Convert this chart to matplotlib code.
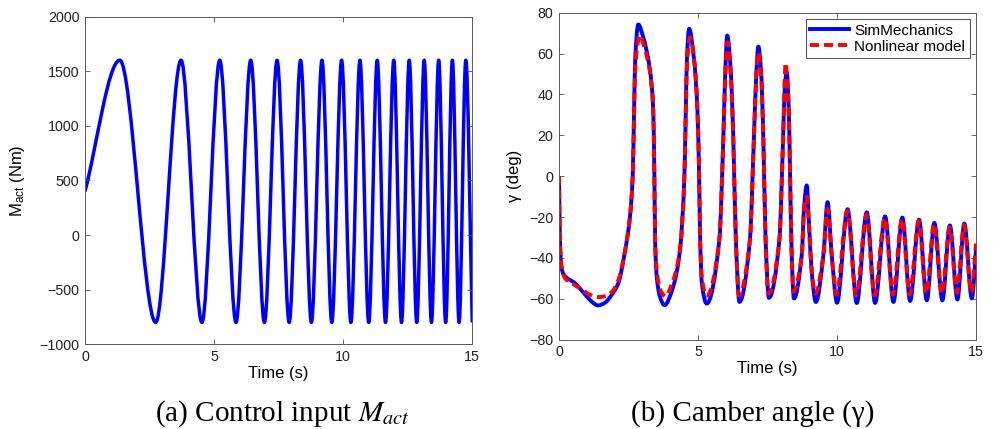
import numpy as np
import matplotlib
matplotlib.use('Agg')
import matplotlib.pyplot as plt
from matplotlib.path import Path
from matplotlib.patches import PathPatch
from matplotlib.lines import Line2D

plt.rcParams['font.family'] = ['Liberation Sans', 'DejaVu Sans']
plt.rcParams['mathtext.fontset'] = 'custom'
plt.rcParams['mathtext.rm'] = 'Liberation Sans'
plt.rcParams['mathtext.it'] = 'Liberation Sans:italic'

# (a) control input: start value and the turning points of the chirp
m_act_time = [0.00, 1.35, 2.74, 3.72, 4.53, 5.22, 5.85, 6.42, 6.95, 7.44, 7.91,
              8.35, 8.77, 9.18, 9.56, 9.94, 10.30, 10.65, 10.99, 11.32, 11.64,
              11.96, 12.26, 12.56, 12.85, 13.14, 13.42, 13.70, 13.97, 14.23,
              14.49, 14.75, 15.00]
m_act = [400, 1600, -800, 1600, -800, 1600, -800, 1600, -800, 1600, -800,
         1600, -800, 1600, -800, 1600, -800, 1600, -800, 1600, -800,
         1600, -800, 1600, -800, 1600, -800, 1600, -800, 1600,
         -800, 1600, -800]

# (b) camber angle, SimMechanics
sim_time = [0.00, 0.03, 0.08, 0.16, 0.58, 0.94, 1.18, 1.40, 1.65, 1.90, 2.13,
            2.37, 2.55, 2.65, 2.70, 2.74, 2.85, 3.03, 3.27, 3.39, 3.43, 3.46,
            3.52, 3.63, 3.79,
            4.11, 4.35, 4.51, 4.56, 4.60, 4.68, 4.86, 4.98, 5.04, 5.08, 5.14,
            5.31,
            5.77, 5.91, 5.98, 6.05, 6.18, 6.27, 6.36, 6.49,
            6.87, 7.01, 7.10, 7.17, 7.27, 7.35, 7.43, 7.55,
            7.93, 8.06, 8.12, 8.19, 8.26, 8.31, 8.37, 8.45,
            8.73, 8.82, 8.91, 8.99, 9.09, 9.24,
            9.51, 9.66, 9.81, 10.00,
            10.38, 10.71, 11.07, 11.37, 11.73, 12.03, 12.35, 12.63, 12.95,
            13.23, 13.50, 13.79, 14.06, 14.33, 14.58, 14.85, 15.00]
sim_gamma = [0, -30, -44, -48, -52.5, -58, -61.5, -63.3, -62, -58, -52.5,
             -37, -20, 0, 32, 57, 74.3, 68, 52, 32, 0, -33,
             -50, -59, -63.2,
             -54, -36.3, 0, 32, 57, 72.2, 56.7, 32, 0, -33, -52.6,
             -62.4,
             -30.6, 18.4, 51, 68.9, 51, 18.4, -30.6, -61.6,
             -30.6, 18.4, 51, 63.5, 51, 18.4, -30.6, -59.6,
             -30.6, 18.4, 42.8, 51, 34.6, 2, -38.7, -59.9,
             -38.7, -14.3, -4.5, -22.4, -46.9, -61.6,
             -38.7, -12.7, -38.7, -62,
             -16.2, -62.1, -17.7, -62.1, -19.7, -61.6, -20.3, -61.1, -21.3,
             -60.8, -22.9, -60.8, -24.1, -60.4, -23.2, -59.9, -36]

# (b) camber angle, nonlinear model
nl_time = [0.00, 0.03, 0.08, 0.22, 0.58, 0.94, 1.20, 1.42, 1.65, 1.90, 2.13,
           2.37, 2.55, 2.65, 2.70, 2.75, 2.91, 3.05, 3.27, 3.39, 3.43, 3.46,
           3.53, 3.65, 3.83,
           4.08, 4.35, 4.51, 4.56, 4.61, 4.71, 4.88, 4.98, 5.04, 5.08, 5.14,
           5.31,
           5.77, 5.91, 5.99, 6.06, 6.18, 6.27, 6.36, 6.47,
           6.87, 7.01, 7.10, 7.17, 7.27, 7.35, 7.43, 7.53,
           7.93, 8.06, 8.15, 8.21, 8.26, 8.31, 8.37, 8.43,
           8.73, 8.82, 8.91, 8.99, 9.09, 9.22,
           9.51, 9.66, 9.81, 9.98,
           10.37, 10.69, 11.06, 11.35, 11.72, 12.01, 12.34, 12.61, 12.94,
           13.21, 13.49, 13.77, 14.05, 14.31, 14.57, 14.83, 15.00]
nl_gamma = [0, -30, -43, -50, -53.4, -56.7, -58.6, -59.2, -58.8, -56.7, -51,
            -37, -20, 0, 32, 55, 68.9, 64, 51, 32, 0, -33,
            -48, -56, -58.8,
            -52, -36, 0, 32, 56, 68, 55, 32, 0, -33, -50,
            -58.5,
            -30.6, 18.4, 51, 65.6, 49, 18.4, -30.6, -58.3,
            -30.6, 18.4, 50, 60.7, 49, 18.4, -30.6, -57.5,
            -30.6, 18.4, 55.5, 47, 34.6, 2, -38.7, -56.5,
            -38.7, -16, -10, -25, -46.9, -57.5,
            -38.7, -16, -38.7, -58,
            -17, -58.3, -19, -58.3, -20.5, -58, -21, -58, -22,
            -57.5, -23.5, -57.5, -25, -57, -24, -57, -33]

series_labels = ['SimMechanics', 'Nonlinear model']
time_ticks = [0, 5, 10, 15]
m_act_ticks = [-1000, -500, 0, 500, 1000, 1500, 2000]
gamma_ticks = [-80, -60, -40, -20, 0, 20, 40, 60, 80]


def pchip_slopes(x, y):
    """Monotone (Fritsch-Carlson) tangents at the given vertices."""
    x = np.asarray(x, float)
    y = np.asarray(y, float)
    h = np.diff(x)
    d = np.diff(y) / h
    m = np.zeros_like(y)
    m[0] = d[0]
    m[-1] = d[-1]
    for k in range(1, len(x) - 1):
        if d[k - 1] * d[k] > 0:
            w1 = 2 * h[k] + h[k - 1]
            w2 = h[k] + 2 * h[k - 1]
            m[k] = (w1 + w2) / (w1 / d[k - 1] + w2 / d[k])
    return m


def smooth_line(ax, x, y, **kw):
    """Draw the vertices as one smooth bezier path in data coordinates."""
    m = pchip_slopes(x, y)
    verts = [(x[0], y[0])]
    codes = [Path.MOVETO]
    for i in range(len(x) - 1):
        h = x[i + 1] - x[i]
        verts += [(x[i] + h / 3, y[i] + m[i] * h / 3),
                  (x[i + 1] - h / 3, y[i + 1] - m[i + 1] * h / 3),
                  (x[i + 1], y[i + 1])]
        codes += [Path.CURVE4] * 3
    patch = PathPatch(Path(verts, codes), fill=False, transform=ax.transData,
                      joinstyle='round', **kw)
    ax.add_patch(patch)
    return patch


def style_axes(ax):
    ax.tick_params(direction='in', top=True, right=True, length=3.5,
                   width=0.6, color='0.3', labelsize=10.3,
                   labelcolor='#222222', pad=4)
    for s in ax.spines.values():
        s.set_color('0.35')
        s.set_linewidth(0.7)


fig = plt.figure(figsize=(9.94, 4.29), dpi=100)
ax1 = fig.add_axes([0.0855, 0.1974, 0.3896, 0.7641])
ax2 = fig.add_axes([0.5624, 0.2086, 0.4195, 0.7615])

# left panel
smooth_line(ax1, m_act_time, m_act, edgecolor='#0000ff', linewidth=2.5)
ax1.set_xlim(0, 15)
ax1.set_ylim(-1000, 2000)
ax1.set_xticks(time_ticks)
ax1.set_yticks(m_act_ticks)
style_axes(ax1)
ax1.set_xlabel('Time (s)', fontsize=12)
ax1.set_ylabel(r'M$_{\mathrm{act}}$ (Nm)', fontsize=12)
ax1.xaxis.set_label_coords(0.5, -0.066)
ax1.yaxis.set_label_coords(-0.150, 0.5)

# right panel
smooth_line(ax2, sim_time, sim_gamma, edgecolor='#0000ff', linewidth=2.8)
smooth_line(ax2, nl_time, nl_gamma, edgecolor='#ff0000', linewidth=2.8,
            linestyle=(0, (2.3, 1.3)))
ax2.set_xlim(0, 15)
ax2.set_ylim(-80, 80)
ax2.set_xticks(time_ticks)
ax2.set_yticks(gamma_ticks)
style_axes(ax2)
ax2.set_xlabel('Time (s)', fontsize=12)
ax2.set_ylabel('γ (deg)', fontsize=12)
ax2.xaxis.set_label_coords(0.5, -0.067)
ax2.yaxis.set_label_coords(-0.089, 0.5)

handles = [Line2D([], [], color='#0000ff', lw=2.8),
           Line2D([], [], color='#ff0000', lw=2.8, ls=(0, (2.3, 1.3)))]
leg = ax2.legend(handles, series_labels, loc='upper right', fontsize=11,
                 fancybox=False, framealpha=1, edgecolor='0.35',
                 borderpad=0.3, labelspacing=0.15, handlelength=2.55,
                 handletextpad=0.35, borderaxespad=0.4)
leg.get_frame().set_linewidth(0.8)

# captions
fig.text(282 / 994, 1 - 420.7 / 429, '(a) Control input $M_{act}$',
         ha='center', va='baseline', fontsize=21,
         family='Liberation Serif', math_fontfamily='stix')
fig.text(753 / 994, 1 - 420.7 / 429, '(b) Camber angle (γ)',
         ha='center', va='baseline', fontsize=21, family='Liberation Serif')

fig.savefig('out.png', dpi=100)
